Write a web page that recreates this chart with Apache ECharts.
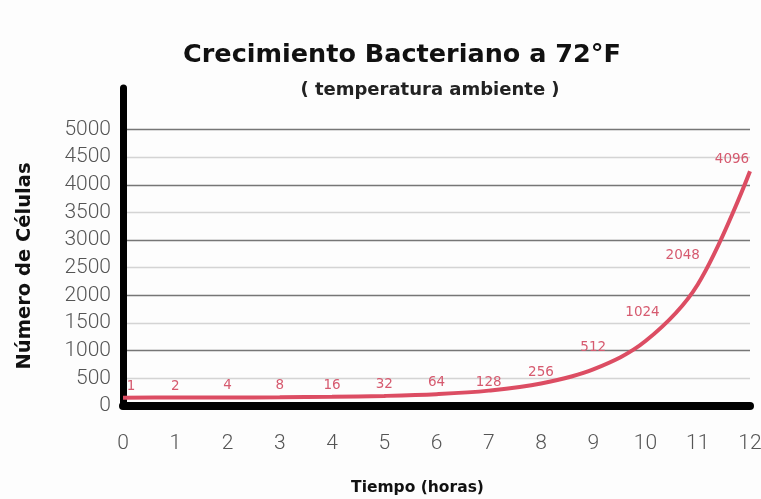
<!DOCTYPE html>
<html>
<head>
<meta charset="utf-8">
<script src="https://cdn.jsdelivr.net/npm/echarts@6/dist/echarts.min.js"></script>
<style>
html,body{margin:0;padding:0;background:#fdfdfd;}
#chart{width:761px;height:499px;}
</style>
</head>
<body>
<div id="chart"></div>
<script>
// ---- data ----
const hours = ['0','1','2','3','4','5','6','7','8','9','10','11','12'];
const cells = [1, 2, 4, 8, 16, 32, 64, 128, 256, 512, 1024, 2048, 4096];
const yTicks = [0, 500, 1000, 1500, 2000, 2500, 3000, 3500, 4000, 4500, 5000];

// ---- style ----
const LINE_LIFT = 150;          // the drawn curve sits just above the thick base line
const RED = '#dc4d63';
const LABEL_RED = '#d65a6f';
const labelShift = {0:[8,0], 7:[0,3], 9:[0,-10], 10:[-3,-17], 11:[-15,-17], 12:[-18,0]};
const DARK = '#767676', LIGHT = '#d4d4d4', NONE = 'rgba(0,0,0,0)';
const BOLD_FONT = 'DejaVu Sans';

const chart = echarts.init(document.getElementById('chart'), null, {renderer:'canvas'});

const option = {
  backgroundColor: '#fdfdfd',
  animation: false,
  title: [
    {text: 'Crecimiento Bacteriano a 72°F', left: 397, top: 37, textAlign: 'center',
     textStyle: {fontFamily: BOLD_FONT, fontWeight: 'bold', fontSize: 25.5, color: '#111'}},
    {text: '( temperatura ambiente )', left: 425, top: 76, textAlign: 'center',
     textStyle: {fontFamily: BOLD_FONT, fontWeight: 'bold', fontSize: 18, color: '#222'}}
  ],
  grid: {left: 123, right: 11, top: 88, bottom: 93, containLabel: false, outerBoundsMode: 'none'},
  xAxis: {
    type: 'category', data: hours, boundaryGap: false,
    axisLine: {show: true, lineStyle: {color: '#000', width: 8}},
    axisTick: {show: false},
    axisLabel: {color: '#555', fontFamily: 'Roboto', fontWeight: 300, fontSize: 21, margin: 27},
    splitLine: {show: false},
    name: 'Tiempo (horas)', nameLocation: 'middle', nameGap: 74,
    nameTextStyle: {fontFamily: BOLD_FONT, fontWeight: 'bold', fontSize: 15.5, color: '#111', padding: [0, 38, 0, 0]}
  },
  yAxis: {
    type: 'value', min: 0, max: 5750, interval: 500,
    axisLine: {show: true, lineStyle: {color: '#000', width: 7}},
    axisTick: {show: false},
    axisLabel: {color: '#555', fontFamily: 'Roboto', fontWeight: 300, fontSize: 21, margin: 12,
      formatter: v => (yTicks.indexOf(v) >= 0 ? String(v) : '')},
    splitLine: {show: true, lineStyle: {width: 1.3,
      color: [NONE, LIGHT, DARK, LIGHT, DARK, LIGHT, DARK, LIGHT, DARK, LIGHT, DARK, NONE, NONE]}},
    name: 'Número de Células', nameLocation: 'middle', nameGap: 88, nameRotate: 90,
    nameTextStyle: {fontFamily: BOLD_FONT, fontWeight: 'bold', fontSize: 19.5, color: '#111', padding: [0, 38, 0, 0]}
  },
  series: [
    {
      name: 'lift', type: 'line', stack: 'curve', silent: true,
      data: hours.map(() => LINE_LIFT),
      showSymbol: false, lineStyle: {opacity: 0}, z: 1
    },
    {
      name: 'Células', type: 'line', stack: 'curve', smooth: 0.35,
      data: cells.map((v, i) => ({value: v,
        label: labelShift[i] ? {offset: labelShift[i]} : undefined})),
      showSymbol: true, symbol: 'circle', symbolSize: 1,
      lineStyle: {color: RED, width: 4},
      itemStyle: {color: 'rgba(0,0,0,0)'},
      label: {show: true, position: 'top', distance: 4, color: LABEL_RED, fontSize: 13.5,
        fontFamily: 'DejaVu Sans', formatter: p => String(p.value)},
      z: 5
    }
  ]
};
chart.setOption(option);
</script>
</body>
</html>
